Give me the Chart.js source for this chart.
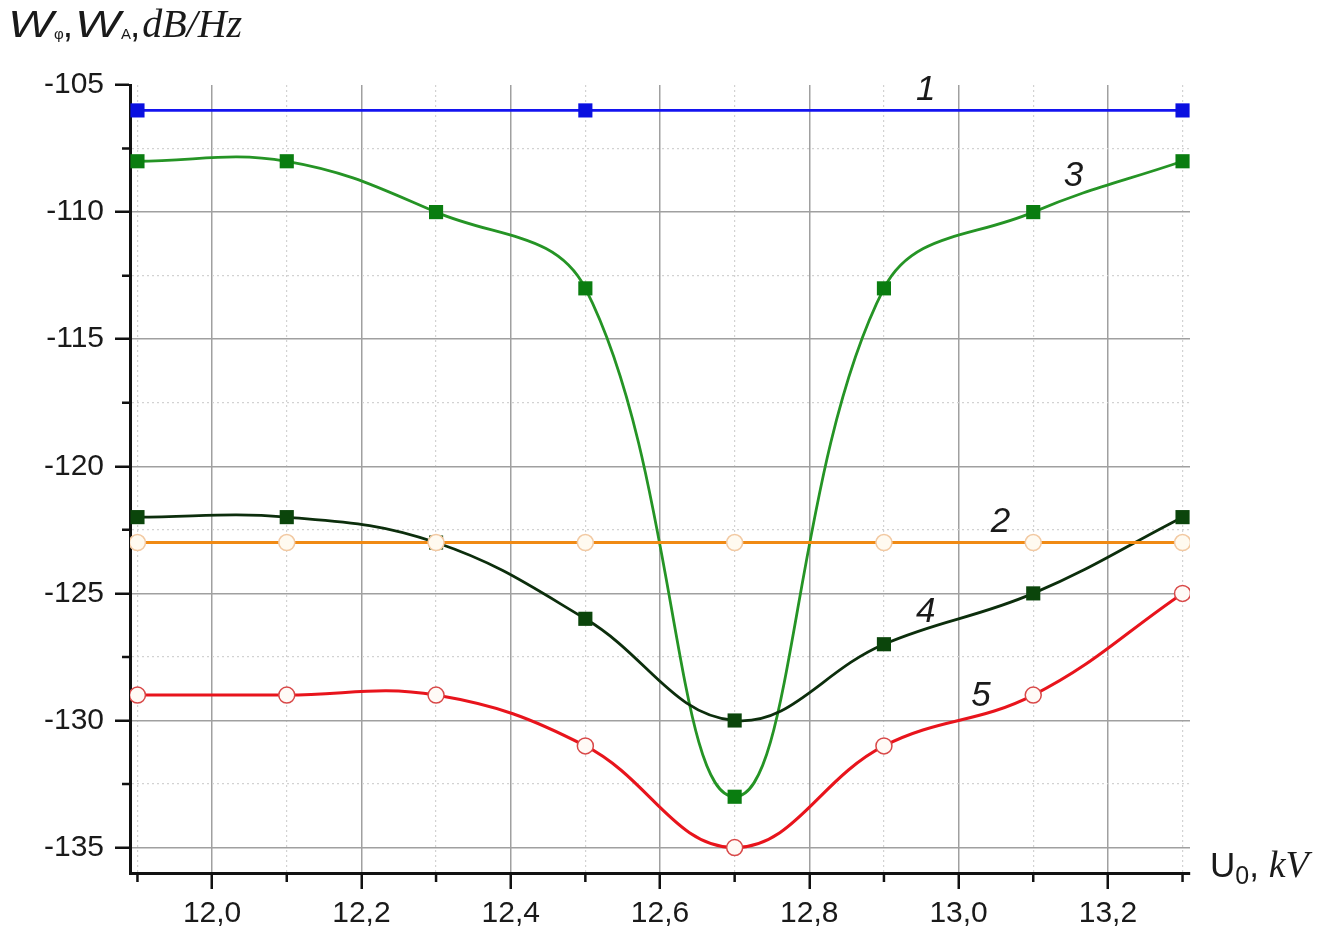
<!DOCTYPE html>
<html>
<head>
<meta charset="utf-8">
<script src="https://cdn.jsdelivr.net/npm/chart.js@4.4.1/dist/chart.umd.min.js"></script>
<style>
  html, body { margin: 0; padding: 0; background: #fff; }
  #wrap { position: relative; width: 1340px; height: 932px; }
  #plot { position: absolute; left: 0; top: 0; }
  .ttl { position: absolute; font-family: "Liberation Sans", Arial, sans-serif; color: #1a1a1a; white-space: nowrap; }
  .ttl .ser { font-family: "Liberation Serif", "DejaVu Serif", serif; font-style: italic; }
  .ttl .it { font-style: italic; display: inline-block; transform: scaleX(1.3); transform-origin: left; margin-right: 11px; }
  #ytitle { left: 8px; top: 0px; font-size: 37px; }
  #ytitle sub { font-size: 15px; vertical-align: -2px; }
  #ytitle .cm { margin-left: -1px; margin-right: 2px; }
  #ytitle .ser { font-size: 40px; }
  #xtitle { left: 1210px; top: 842px; font-size: 35px; }
  #xtitle sub { font-size: 25px; vertical-align: -7px; }
  #xtitle .ser { font-size: 38px; }
</style>
</head>
<body>
<div id="wrap">
  <canvas id="plot" width="1340" height="932"></canvas>
  <div class="ttl" id="ytitle"><span class="it">W</span><sub>φ</sub><span class="cm">,</span><span class="it">W</span><sub>A</sub><span class="cm">,</span><span class="ser">dB/Hz</span></div>
  <div class="ttl" id="xtitle">U<sub>0</sub>, <span class="ser">kV</span></div>
</div>
<script>
// accelerating voltage, kV
const uAll = [11.9, 12.1, 12.3, 12.5, 12.7, 12.9, 13.1, 13.3];
const u1   = [11.9, 12.5, 13.3];

// spectral densities, dB/Hz
const w1 = [-106, -106, -106];
const w2 = [-123, -123, -123, -123, -123, -123, -123, -123];
const w3 = [-108, -108, -110, -113, -133, -113, -110, -108];
const w4 = [-122, -122, -123, -126, -130, -127, -125, -122];
const w5 = [-129, -129, -129, -131, -135, -131, -129, -125];

// axis ticks (major + minor)
const xTickVals = [11.9, 12.0, 12.1, 12.2, 12.3, 12.4, 12.5, 12.6, 12.7, 12.8, 12.9, 13.0, 13.1, 13.2, 13.3];
const yTickVals = [-135, -132.5, -130, -127.5, -125, -122.5, -120, -117.5, -115, -112.5, -110, -107.5, -105];

// curve numbers and where they sit (data coords)
const tagText = ['1', '2', '3', '4', '5'];
const tagU    = [12.956, 13.056, 13.154, 12.956, 13.030];
const tagW    = [-105.2, -122.2, -108.6, -125.75, -129.05];

const pts = (xs, ys) => xs.map((x, i) => ({ x: x, y: ys[i] }));
const isMajorX = v => Math.round(v * 10) % 2 === 0;
const isMajorY = v => Math.round(v * 10) % 50 === 0;
const Y_TOP = -105;

Chart.defaults.font.family = '"Liberation Sans", Arial, sans-serif';
Chart.defaults.color = '#1a1a1a';

// minor ticks are shorter, draw them by hand; plus curve numbers
const extras = {
  id: 'extras',
  afterDraw(chart) {
    const { ctx, chartArea: a, scales: { x, y } } = chart;
    ctx.save();
    ctx.strokeStyle = '#111';
    ctx.lineWidth = 2.5;
    ctx.beginPath();
    xTickVals.filter(v => !isMajorX(v)).forEach(v => {
      const px = x.getPixelForValue(v);
      ctx.moveTo(px, a.bottom); ctx.lineTo(px, a.bottom + 9);
    });
    yTickVals.filter(v => !isMajorY(v)).forEach(v => {
      const py = y.getPixelForValue(v);
      ctx.moveTo(a.left, py); ctx.lineTo(a.left - 8, py);
    });
    ctx.stroke();

    ctx.fillStyle = '#1a1a1a';
    ctx.font = 'italic 35px "Liberation Sans", Arial, sans-serif';
    ctx.textAlign = 'center';
    ctx.textBaseline = 'middle';
    tagText.forEach((t, i) => {
      ctx.fillText(t, x.getPixelForValue(tagU[i]), y.getPixelForValue(tagW[i]));
    });
    ctx.restore();
  }
};

new Chart(document.getElementById('plot'), {
  type: 'line',
  data: {
    datasets: [
      {
        data: pts(u1, w1),
        borderColor: '#1414f0', backgroundColor: '#0a10e0',
        borderWidth: 2.8, pointStyle: 'rect', pointRadius: 10, pointBorderWidth: 0,
        tension: 0
      },
      {
        data: pts(uAll, w2),
        borderColor: '#f08a14', backgroundColor: '#fffaf0',
        borderWidth: 3, pointStyle: 'circle', pointRadius: 8,
        pointBorderColor: '#f2c9a2', pointBorderWidth: 1.5,
        tension: 0
      },
      {
        data: pts(uAll, w4),
        borderColor: '#0c2e0c', backgroundColor: '#0b450b',
        borderWidth: 2.8, pointStyle: 'rect', pointRadius: 10, pointBorderWidth: 0,
        tension: 0.4
      },
      {
        data: pts(uAll, w3),
        borderColor: '#259425', backgroundColor: '#0a7d10',
        borderWidth: 2.8, pointStyle: 'rect', pointRadius: 10, pointBorderWidth: 0,
        tension: 0.4
      },
      {
        data: pts(uAll, w5),
        borderColor: '#e8141c', backgroundColor: '#fffaf6',
        borderWidth: 3, pointStyle: 'circle', pointRadius: 8,
        pointBorderColor: '#d84848', pointBorderWidth: 1.5,
        tension: 0.4
      }
    ]
  },
  options: {
    responsive: false,
    animation: false,
    layout: { padding: { left: 0, top: 85, right: 150, bottom: 0 } },
    plugins: { legend: { display: false }, tooltip: { enabled: false } },
    scales: {
      x: {
        type: 'linear',
        min: 11.89, max: 13.31,
        afterBuildTicks: s => { s.ticks = xTickVals.map(v => ({ value: v })); },
        afterFit: s => { s.height = 59; },
        ticks: {
          autoSkip: false, maxRotation: 0, padding: 7,
          font: { size: 30 }, color: '#1a1a1a',
          callback: v => isMajorX(v) ? v.toFixed(1).replace('.', ',') : ''
        },
        grid: {
          color: c => isMajorX(c.tick.value) ? '#a0a0a0' : '#d2d2d2',
          lineWidth: c => isMajorX(c.tick.value) ? 1.5 : 1.2,
          tickLength: 16,
          tickWidth: 2.5,
          tickColor: c => isMajorX(c.tick.value) ? '#111' : 'rgba(0,0,0,0)'
        },
        border: {
          color: '#111', width: 3,
          dash: c => (c.tick && !isMajorX(c.tick.value)) ? [2, 3] : []
        }
      },
      y: {
        type: 'linear',
        min: -136, max: Y_TOP,
        afterBuildTicks: s => { s.ticks = yTickVals.map(v => ({ value: v })); },
        afterFit: s => { s.width = 130; },
        ticks: {
          autoSkip: false, padding: 11,
          font: { size: 30 }, color: '#1a1a1a',
          callback: v => isMajorY(v) ? String(v) : ''
        },
        grid: {
          // open top: no line along -105
          color: c => c.tick.value === Y_TOP ? 'rgba(0,0,0,0)' : (isMajorY(c.tick.value) ? '#a0a0a0' : '#d2d2d2'),
          lineWidth: c => isMajorY(c.tick.value) ? 1.5 : 1.2,
          tickLength: 15,
          tickWidth: 2.5,
          tickColor: c => isMajorY(c.tick.value) ? '#111' : 'rgba(0,0,0,0)'
        },
        border: {
          color: '#111', width: 3,
          dash: c => (c.tick && !isMajorY(c.tick.value)) ? [2, 3] : []
        }
      }
    }
  },
  plugins: [extras]
});
</script>
</body>
</html>
